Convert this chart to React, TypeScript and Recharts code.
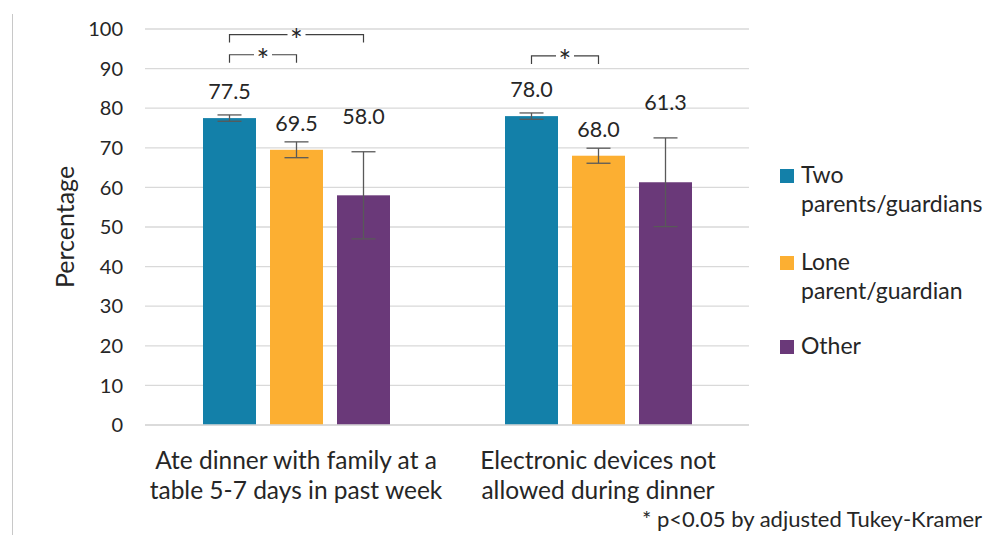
import React from "react";
import { BarChart, Bar, XAxis, YAxis, CartesianGrid, ErrorBar } from "recharts";

const categories = [
  "Ate dinner with family at a\ntable 5-7 days in past week",
  "Electronic devices not\nallowed during dinner",
];
const twoParents = [77.5, 78.0];
const twoParentsErr = [0.8, 0.8];
const loneParent = [69.5, 68.0];
const loneParentErr = [2.0, 1.9];
const other = [58.0, 61.3];
const otherErr = [11.0, 11.2];
const yTicks = [0, 10, 20, 30, 40, 50, 60, 70, 80, 90, 100];

// significant pairs: category index, series indexes, bracket level (in %)
const sigPairs = [
  { cat: 0, from: 0, to: 1, level: 93.5 },
  { cat: 0, from: 0, to: 2, level: 98.6 },
  { cat: 1, from: 0, to: 1, level: 93.2 },
];

const seriesNames = ["Two\nparents/guardians", "Lone\nparent/guardian", "Other"];
const seriesColors = ["#1380A9", "#FCAF32", "#6A3979"];

const data = categories.map((name, i) => ({
  name,
  two: twoParents[i],
  twoErr: twoParentsErr[i],
  lone: loneParent[i],
  loneErr: loneParentErr[i],
  other: other[i],
  otherErr: otherErr[i],
}));

const FONT = "Lato, 'Open Sans', sans-serif";
const TEXT = "#262626";
const BAR_SIZE = 53;
const BAR_GAP = 14;
const LABEL_RAISE = [15.5, 11, 28];
const errKeys = ["twoErr", "loneErr", "otherErr"];

function makeShape(series: number) {
  return (props: any) => {
    const { x, y, width, height, fill, payload, index, value } = props;
    const v = Array.isArray(value) ? value[1] : value;
    const base = y + height;
    const py = (d: number) => base - (height * d) / v;
    const err = payload[errKeys[series]];
    const cx = x + width / 2;
    const brackets =
      series === 0
        ? sigPairs
            .filter((s) => s.cat === index)
            .map((s, k) => {
              const x1 = cx + s.from * (width + BAR_GAP);
              const x2 = cx + s.to * (width + BAR_GAP);
              const by = py(s.level);
              const mid = (x1 + x2) / 2;
              return (
                <g key={k}>
                  <path
                    d={`M${x1},${by + 8}V${by}H${mid - 9}M${mid + 9},${by}H${x2}V${by + 8}`}
                    stroke="#404040"
                    strokeWidth={1.2}
                    fill="none"
                  />
                  <text x={mid} y={by + 16} textAnchor="middle" fontSize={30} fontFamily={FONT} fill={TEXT}>
                    *
                  </text>
                </g>
              );
            })
        : null;
    return (
      <g>
        <rect x={x} y={y} width={width} height={height} fill={fill} />
        <text
          x={cx}
          y={py(v + err) - LABEL_RAISE[series]}
          textAnchor="middle"
          fontSize={21.5}
          fontFamily={FONT}
          fill={TEXT}
        >
          {v.toFixed(1)}
        </text>
        {brackets}
      </g>
    );
  };
}

const CategoryTick = (props: any) => {
  const { x, y, payload } = props;
  const lines = String(payload.value).split("\n");
  return (
    <g>
      {lines.map((l, i) => (
        <text key={i} x={x} y={y + 44 + i * 30} textAnchor="middle" fontSize={24.5} fontFamily={FONT} fill={TEXT}>
          {l}
        </text>
      ))}
    </g>
  );
};

const legendTops = [160, 247, 331];

export default function App() {
  return (
    <div style={{ position: "absolute", left: 0, top: 0, width: 989, height: 535, background: "#fff" }}>
      <div style={{ position: "absolute", left: 12, top: 14, width: 1, height: 521, background: "#c8c8c8" }} />
      <BarChart
        width={989}
        height={535}
        data={data}
        margin={{ top: 29, right: 240, bottom: 30, left: 0 }}
        barSize={BAR_SIZE}
        barGap={BAR_GAP}
      >
        <CartesianGrid vertical={false} stroke="#d9d9d9" strokeWidth={1.3} />
        <XAxis
          dataKey="name"
          height={80}
          axisLine={{ stroke: "#d9d9d9", strokeWidth: 1.3 }}
          tickLine={false}
          tickSize={0}
          tickMargin={0}
          tick={<CategoryTick />}
          interval={0}
        />
        <YAxis
          width={145}
          domain={[0, 100]}
          ticks={yTicks}
          axisLine={false}
          tickLine={false}
          tickSize={0}
          tickMargin={22}
          tick={{ fontSize: 20, fontFamily: FONT, fill: TEXT }}
          label={(p: any) => {
            const vb = p.viewBox;
            const cx = vb.x + 64;
            const cy = vb.y + vb.height / 2;
            return (
              <text
                x={cx}
                y={cy}
                transform={`rotate(-90 ${cx} ${cy})`}
                textAnchor="middle"
                dominantBaseline="central"
                fontSize={25}
                fontFamily={FONT}
                fill={TEXT}
              >
                Percentage
              </text>
            );
          }}
        />
        <Bar dataKey="two" name="Two parents/guardians" fill={seriesColors[0]} shape={makeShape(0)} isAnimationActive={false}>
          <ErrorBar dataKey="twoErr" width={12} stroke="#595959" strokeWidth={1.3} />
        </Bar>
        <Bar dataKey="lone" name="Lone parent/guardian" fill={seriesColors[1]} shape={makeShape(1)} isAnimationActive={false}>
          <ErrorBar dataKey="loneErr" width={12} stroke="#595959" strokeWidth={1.3} />
        </Bar>
        <Bar dataKey="other" name="Other" fill={seriesColors[2]} shape={makeShape(2)} isAnimationActive={false}>
          <ErrorBar dataKey="otherErr" width={12} stroke="#595959" strokeWidth={1.3} />
        </Bar>
      </BarChart>
      {seriesNames.map((n, i) => (
        <div
          key={i}
          style={{
            position: "absolute",
            left: 780,
            top: legendTops[i],
            display: "flex",
            alignItems: "flex-start",
            fontFamily: FONT,
            fontSize: 23,
            lineHeight: "29px",
            color: TEXT,
          }}
        >
          <span style={{ width: 14, height: 14, background: seriesColors[i], marginTop: 9, marginRight: 7, flex: "none" }} />
          <span style={{ whiteSpace: "pre" }}>{n}</span>
        </div>
      ))}
      <div
        style={{
          position: "absolute",
          left: 642,
          top: 506,
          fontFamily: FONT,
          fontSize: 22,
          lineHeight: 1.2,
          color: TEXT,
          whiteSpace: "nowrap",
        }}
      >
        * p&lt;0.05 by adjusted Tukey-Kramer
      </div>
    </div>
  );
}
